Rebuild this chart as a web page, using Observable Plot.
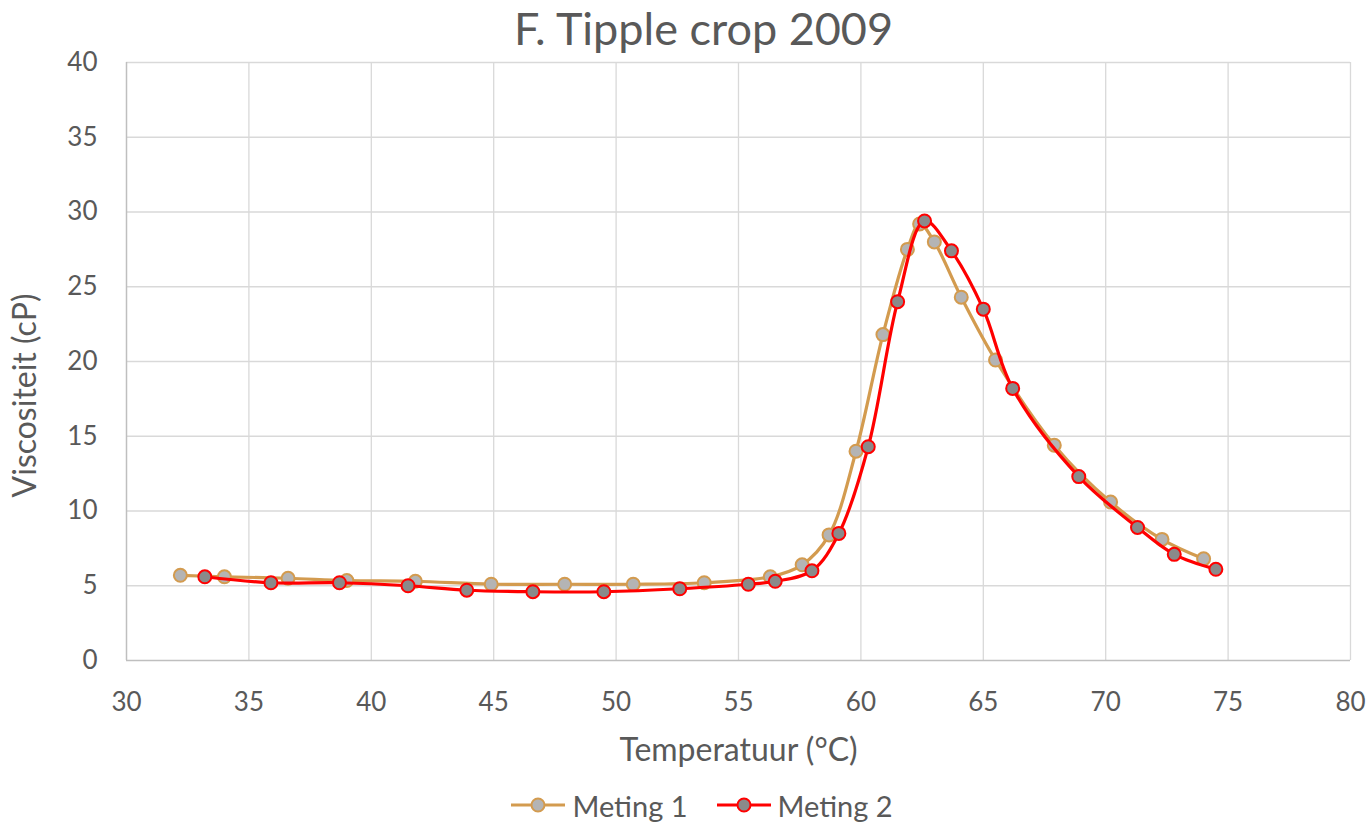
<!DOCTYPE html>
<html>
<head>
<meta charset="utf-8">
<script src="https://cdn.jsdelivr.net/npm/d3@7"></script>
<script src="https://cdn.jsdelivr.net/npm/@observablehq/plot@0.6"></script>
<style>
  body { margin: 0; background: #fff; font-family: Lato, "Open Sans", sans-serif; color: #595959; }
  #wrap { position: relative; width: 1371px; height: 822px; overflow: hidden; }
  #title { position: absolute; top: 0; left: 18px; width: 1371px; height: 56px; line-height: 56px; text-align: center; font-size: 45px; z-index: 2; }
  #chart { position: absolute; top: 30px; left: 0; }
  #legend { position: absolute; top: 786px; left: 16px; width: 1371px; height: 38px; display: flex; justify-content: center; align-items: center; font-size: 29px; }
  .item { display: flex; align-items: center; margin: 0 14px; }
  .item svg { margin-right: 6px; }
</style>
</head>
<body>
<div id="wrap">
  <div id="chart"></div>
  <div id="title">F. Tipple crop 2009</div>
  <div id="legend"></div>
</div>
<script>
const seriesNames = ["Meting 1", "Meting 2"];
const lineColors = ["#d39b4f", "#ff0000"];
const fillColors = ["#b4b4b4", "#8a8a8a"];

const temp1 = [32.2, 34.0, 36.6, 39.0, 41.8, 44.9, 47.9, 50.7, 53.6, 56.3, 57.6, 58.7, 59.8, 60.9, 61.9, 62.4, 63.0, 64.1, 65.5, 67.9, 70.2, 72.3, 74.0];
const visc1 = [5.7, 5.6, 5.5, 5.35, 5.3, 5.1, 5.1, 5.1, 5.2, 5.6, 6.4, 8.4, 14.0, 21.8, 27.5, 29.2, 28.0, 24.3, 20.1, 14.4, 10.6, 8.1, 6.8];

const temp2 = [33.2, 35.9, 38.7, 41.5, 43.9, 46.6, 49.5, 52.6, 55.4, 56.5, 58.0, 59.1, 60.3, 61.5, 62.6, 63.7, 65.0, 66.2, 68.9, 71.3, 72.8, 74.5];
const visc2 = [5.6, 5.2, 5.2, 5.0, 4.7, 4.6, 4.6, 4.8, 5.1, 5.3, 6.0, 8.5, 14.3, 24.0, 29.4, 27.4, 23.5, 18.2, 12.3, 8.9, 7.1, 6.1];

const xTicks = [30, 35, 40, 45, 50, 55, 60, 65, 70, 75, 80];
const yTicks = [0, 5, 10, 15, 20, 25, 30, 35, 40];
const xLabel = "Temperatuur (°C)";
const yLabel = "Viscositeit (cP)";

const data1 = temp1.map((t, i) => ({t, v: visc1[i]}));
const data2 = temp2.map((t, i) => ({t, v: visc2[i]}));

const chart = Plot.plot({
  width: 1371,
  height: 740,
  marginLeft: 126,
  marginRight: 21,
  marginTop: 32,
  marginBottom: 110,
  style: { fontFamily: "Lato, 'Open Sans', sans-serif", color: "#595959", background: "transparent" },
  x: { domain: [30, 80] },
  y: { domain: [0, 40] },
  marks: [
    Plot.gridX(xTicks.slice(1), { stroke: "#d9d9d9", strokeOpacity: 1, strokeWidth: 1.3 }),
    Plot.gridY(yTicks.slice(1), { stroke: "#d9d9d9", strokeOpacity: 1, strokeWidth: 1.3 }),
    Plot.ruleX([30], { stroke: "#bfbfbf", strokeWidth: 1.5 }),
    Plot.ruleY([0], { stroke: "#bfbfbf", strokeWidth: 1.5 }),
    Plot.axisX(xTicks, { tickSize: 0, tickPadding: 32, fontSize: 26, label: null, tickFormat: d => d }),
    Plot.axisY(yTicks, { tickSize: 0, tickPadding: 29, fontSize: 26, label: null, tickFormat: d => d }),
    Plot.text([xLabel], { frameAnchor: "bottom", lineAnchor: "middle", textAnchor: "middle", dy: 90, fontSize: 32, fill: "#595959" }),
    Plot.text([yLabel], { frameAnchor: "left", textAnchor: "middle", lineAnchor: "middle", dx: -101, dy: 34, rotate: -90, fontSize: 32, fill: "#595959" }),
    Plot.line(data1, { x: "t", y: "v", stroke: lineColors[0], strokeWidth: 3.2, curve: "catmull-rom" }),
    Plot.dot(data1, { x: "t", y: "v", r: 6.5, fill: fillColors[0], stroke: lineColors[0], strokeWidth: 2 }),
    Plot.line(data2, { x: "t", y: "v", stroke: lineColors[1], strokeWidth: 3.2, curve: "catmull-rom" }),
    Plot.dot(data2, { x: "t", y: "v", r: 6.5, fill: fillColors[1], stroke: lineColors[1], strokeWidth: 2 })
  ]
});
document.getElementById("chart").appendChild(chart);

const legend = document.getElementById("legend");
seriesNames.forEach((name, i) => {
  const item = document.createElement("div");
  item.className = "item";
  item.innerHTML = `<svg width="56" height="20"><line x1="1" y1="10" x2="55" y2="10" stroke="${lineColors[i]}" stroke-width="3.2"/><circle cx="28" cy="10" r="6.5" fill="${fillColors[i]}" stroke="${lineColors[i]}" stroke-width="2"/></svg><span>${name}</span>`;
  legend.appendChild(item);
});
</script>
</body>
</html>
